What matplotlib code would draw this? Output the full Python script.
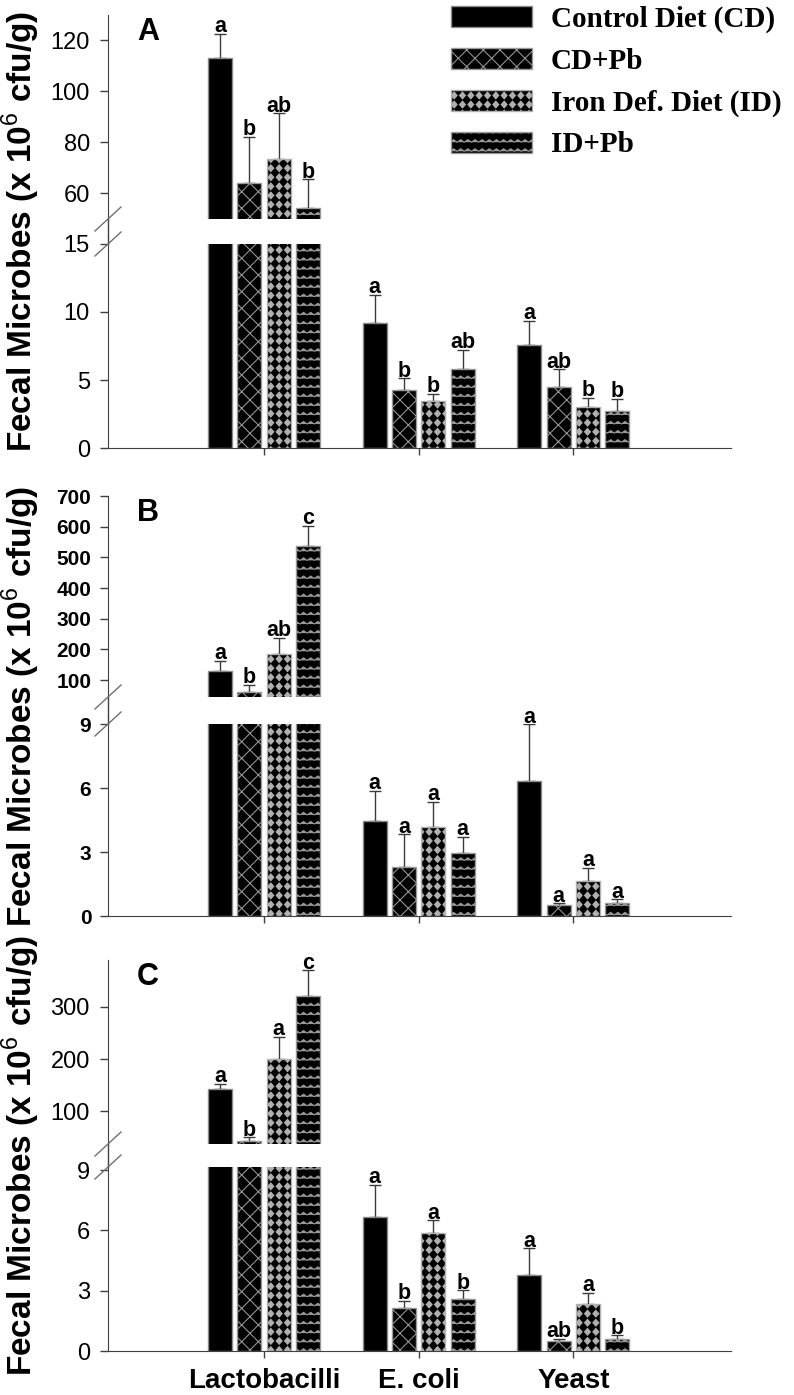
import warnings
import numpy as np
import matplotlib
matplotlib.use('Agg')
import matplotlib.pyplot as plt
from matplotlib import hatch as mhatch
from matplotlib.path import Path
from matplotlib.lines import Line2D
from matplotlib.patches import Patch
from matplotlib.font_manager import FontProperties

warnings.filterwarnings('ignore')

# ---------------- data ----------------
categories = ['Lactobacilli', 'E. coli', 'Yeast']
groups = ['Control Diet (CD)', 'CD+Pb', 'Iron Def. Diet (ID)', 'ID+Pb']

# Panel A
A_CD = [113.0, 9.2, 7.6]
A_CD_PB = [64.3, 4.26, 4.46]
A_ID = [73.6, 3.45, 3.04]
A_ID_PB = [54.5, 5.83, 2.75]
A_CD_ERR = [9.7, 2.05, 1.76]
A_CD_PB_ERR = [17.9, 0.86, 1.32]
A_ID_ERR = [17.9, 0.55, 0.66]
A_ID_PB_ERR = [11.0, 1.37, 0.88]
A_LET_CD = ['a', 'a', 'a']
A_LET_CD_PB = ['b', 'b', 'ab']
A_LET_ID = ['ab', 'b', 'b']
A_LET_ID_PB = ['b', 'ab', 'b']

# Panel B
B_CD = [130.0, 4.47, 6.31]
B_CD_PB = [62.0, 2.31, 0.5]
B_ID = [185.0, 4.19, 1.65]
B_ID_PB = [537.0, 2.97, 0.6]
B_CD_ERR = [33.0, 1.4, 2.68]
B_CD_PB_ERR = [22.0, 1.52, 0.1]
B_ID_ERR = [53.0, 1.17, 0.6]
B_ID_PB_ERR = [66.0, 0.75, 0.18]
B_LET_CD = ['a', 'a', 'a']
B_LET_CD_PB = ['b', 'a', 'a']
B_LET_ID = ['ab', 'a', 'a']
B_LET_ID_PB = ['c', 'a', 'a']

# Panel C
C_CD = [141.7, 6.65, 3.78]
C_CD_PB = [42.0, 2.12, 0.5]
C_ID = [201.0, 5.85, 2.34]
C_ID_PB = [320.0, 2.57, 0.58]
C_CD_ERR = [10.3, 1.62, 1.32]
C_CD_PB_ERR = [8.0, 0.38, 0.11]
C_ID_ERR = [42.0, 0.65, 0.56]
C_ID_PB_ERR = [50.0, 0.45, 0.2]
C_LET_CD = ['a', 'a', 'a']
C_LET_CD_PB = ['b', 'b', 'ab']
C_LET_ID = ['a', 'a', 'a']
C_LET_ID_PB = ['c', 'b', 'b']

# axis ranges / ticks
A_UP_LIM, A_LO_LIM = (50, 130), (0, 15)
B_UP_LIM, B_LO_LIM = (45, 700), (0, 9)
C_UP_LIM, C_LO_LIM = (37, 390), (0, 9.15)
A_UP_TICKS, A_LO_TICKS = [60, 80, 100, 120], [0, 5, 10, 15]
B_UP_TICKS, B_LO_TICKS = [100, 200, 300, 400, 500, 600, 700], [0, 3, 6, 9]
C_UP_TICKS, C_LO_TICKS = [100, 200, 300], [0, 3, 6, 9]


# ---------------- custom hatches ----------------
class ZigZagHatch(mhatch.HatchPatternBase):
    def __init__(self, hatch, density):
        n = hatch.count('z')
        self.num_lines = 11 * n
        self.teeth = 14
        self.npts = 2 * self.teeth + 1
        self.num_vertices = self.num_lines * self.npts

    def set_vertices_and_codes(self, vertices, codes):
        xs = np.linspace(0, 1, self.npts)
        amp = 0.013
        offs = np.where(np.arange(self.npts) % 2 == 0, -amp, amp)
        for i in range(self.num_lines):
            y0 = (i + 0.5) / self.num_lines
            s = slice(i * self.npts, (i + 1) * self.npts)
            vertices[s, 0] = xs
            vertices[s, 1] = y0 + offs
            codes[s] = Path.LINETO
            codes[i * self.npts] = Path.MOVETO


class DiamondHatch(mhatch.HatchPatternBase):
    def __init__(self, hatch, density):
        n = hatch.count('d')
        self.cols = 12 * n
        self.rows = 11 * n
        self.num_vertices = self.cols * self.rows * 5 if n else 0

    def set_vertices_and_codes(self, vertices, codes):
        hw, hh = 0.030, 0.034
        shape = np.array([[0, -hh], [hw, 0], [0, hh], [-hw, 0], [0, -hh]])
        scodes = [Path.MOVETO, Path.LINETO, Path.LINETO, Path.LINETO, Path.CLOSEPOLY]
        k = 0
        for j in range(self.rows):
            for i in range(self.cols):
                c = [(i + 0.5) / self.cols, (j + 0.5) / self.rows]
                vertices[k:k + 5] = shape + c
                codes[k:k + 5] = scodes
                k += 5


mhatch._hatch_types.append(ZigZagHatch)
mhatch._hatch_types.append(DiamondHatch)

plt.rcParams['font.family'] = ['Liberation Sans', 'DejaVu Sans']
plt.rcParams['mathtext.fontset'] = 'custom'
plt.rcParams['mathtext.rm'] = 'Liberation Sans'
plt.rcParams['mathtext.bf'] = 'Liberation Sans:bold'
plt.rcParams['hatch.linewidth'] = 0.75

EDGE = '#8a8a8a'
HATCH_GRAY = '#9a9a9a'
AXC = '#404040'
STYLES = [
    dict(facecolor='black', edgecolor=EDGE, hatch=None),
    dict(facecolor='black', edgecolor=HATCH_GRAY, hatch='xx'),
    dict(facecolor='black', edgecolor='#b0b0b0', hatch='d'),
    dict(facecolor='black', edgecolor=HATCH_GRAY, hatch='z'),
]

W, H = 794, 1395
fig = plt.figure(figsize=(W / 100, H / 100), dpi=100)

AX_L, AX_R = 108, 731


def add_ax(top, bottom):
    return fig.add_axes([AX_L / W, 1 - bottom / H, (AX_R - AX_L) / W, (bottom - top) / H])


panels = [
    dict(letter='A', series=[A_CD, A_CD_PB, A_ID, A_ID_PB],
         errs=[A_CD_ERR, A_CD_PB_ERR, A_ID_ERR, A_ID_PB_ERR],
         lets=[A_LET_CD, A_LET_CD_PB, A_LET_ID, A_LET_ID_PB],
         up=(15, 219), lo=(244, 448), uplim=A_UP_LIM, lolim=A_LO_LIM,
         upt=A_UP_TICKS, lot=A_LO_TICKS, tickw='normal', ticks=17, tpad=7),
    dict(letter='B', series=[B_CD, B_CD_PB, B_ID, B_ID_PB],
         errs=[B_CD_ERR, B_CD_PB_ERR, B_ID_ERR, B_ID_PB_ERR],
         lets=[B_LET_CD, B_LET_CD_PB, B_LET_ID, B_LET_ID_PB],
         up=(496, 697), lo=(724, 916), uplim=B_UP_LIM, lolim=B_LO_LIM,
         upt=B_UP_TICKS, lot=B_LO_TICKS, tickw='bold', ticks=15, tpad=6),
    dict(letter='C', series=[C_CD, C_CD_PB, C_ID, C_ID_PB],
         errs=[C_CD_ERR, C_CD_PB_ERR, C_ID_ERR, C_ID_PB_ERR],
         lets=[C_LET_CD, C_LET_CD_PB, C_LET_ID, C_LET_ID_PB],
         up=(960, 1144), lo=(1167, 1351), uplim=C_UP_LIM, lolim=C_LO_LIM,
         upt=C_UP_TICKS, lot=C_LO_TICKS, tickw='normal', ticks=17, tpad=7),
]

x = np.arange(1, len(categories) + 1)
step = 0.19
width = 0.155
offsets = (np.arange(len(groups)) - 1.5) * step

for pi, P in enumerate(panels):
    ax_up = add_ax(*P['up'])
    ax_lo = add_ax(*P['lo'])
    for ax, lim, ticks in ((ax_up, P['uplim'], P['upt']), (ax_lo, P['lolim'], P['lot'])):
        ax.set_xlim(-0.01, 4.02)
        ax.set_ylim(*lim)
        ax.set_yticks(ticks)
        ax.set_yticklabels([str(t) for t in ticks], fontsize=P['ticks'], fontweight=P['tickw'])
        ax.tick_params(axis='y', direction='out', length=6, width=1, color=AXC, pad=P['tpad'])
        for s in ('top', 'right'):
            ax.spines[s].set_visible(False)
        ax.spines['left'].set_color(AXC)
        ax.spines['bottom'].set_color(AXC)
        ax.patch.set_alpha(0)
        for gi in range(len(groups)):
            st = STYLES[gi]
            xs = x + offsets[gi]
            vals = np.array(P['series'][gi])
            errs = np.array(P['errs'][gi])
            kw = dict(facecolor=st['facecolor'], edgecolor=st['edgecolor'], linewidth=1.0, zorder=2)
            if st['hatch']:
                kw['hatch'] = st['hatch']
            ax.bar(xs, vals, width, **kw)
            ax.errorbar(xs, vals, yerr=[np.zeros_like(errs), errs], fmt='none',
                        ecolor='#3a3a3a', elinewidth=1.0, capsize=4.5, capthick=1.0, zorder=1)
    ax_up.spines['bottom'].set_visible(False)
    ax_up.set_xticks([])
    ax_lo.set_xticks(x)
    ax_lo.tick_params(axis='x', direction='out', length=5, width=1, color=AXC, pad=7)
    if pi == 2:
        ax_lo.set_xticklabels(categories, fontsize=20, fontweight='bold')
    else:
        ax_lo.set_xticklabels([])

    # significance letters
    lo_top = P['lolim'][1]
    for gi in range(len(groups)):
        for ci in range(len(categories)):
            top = P['series'][gi][ci] + P['errs'][gi][ci]
            tax = ax_up if top > lo_top else ax_lo
            tax.annotate(P['lets'][gi][ci], (x[ci] + offsets[gi], top), xytext=(0, 1.2),
                         textcoords='offset points', ha='center', va='baseline',
                         fontsize=15.5, fontweight='bold', clip_on=False, zorder=5)

    # continuous spine across break + break marks
    yb1, yb2 = P['up'][1], P['lo'][0]
    fig.add_artist(Line2D([AX_L / W, AX_L / W], [1 - yb1 / H, 1 - yb2 / H],
                          transform=fig.transFigure, color=AXC, lw=1))
    for yb in (yb1, yb2):
        fig.add_artist(Line2D([(AX_L - 13) / W, (AX_L + 13) / W],
                              [1 - (yb + 12) / H, 1 - (yb - 12) / H],
                              transform=fig.transFigure, color='#707070', lw=1))

    # panel letter
    fig.text(137 / W, 1 - (P['up'][0] + 2) / H, P['letter'], fontsize=22, fontweight='bold',
             ha='left', va='top')

    # y label
    ymid = (P['up'][0] + P['lo'][1]) / 2
    fig.text(21 / W, 1 - ymid / H, r'Fecal Microbes (x 10$^{6}$ cfu/g)', rotation=90,
             fontsize=24, fontweight='bold', ha='center', va='center')

# legend
handles = []
for st in STYLES:
    kw = dict(facecolor=st['facecolor'], edgecolor=st['edgecolor'], linewidth=1.0)
    if st['hatch']:
        kw['hatch'] = st['hatch']
    handles.append(Patch(**kw))

fig.legend(handles, groups, loc='upper left', bbox_to_anchor=(451 / W, 1 - 6 / H),
           frameon=False, prop=FontProperties(family='Liberation Serif', weight='bold', size=21),
           handlelength=2.76, handleheight=0.74, handletextpad=0.67, labelspacing=0.5,
           borderpad=0, borderaxespad=0)

fig.savefig('out.png', dpi=100)
